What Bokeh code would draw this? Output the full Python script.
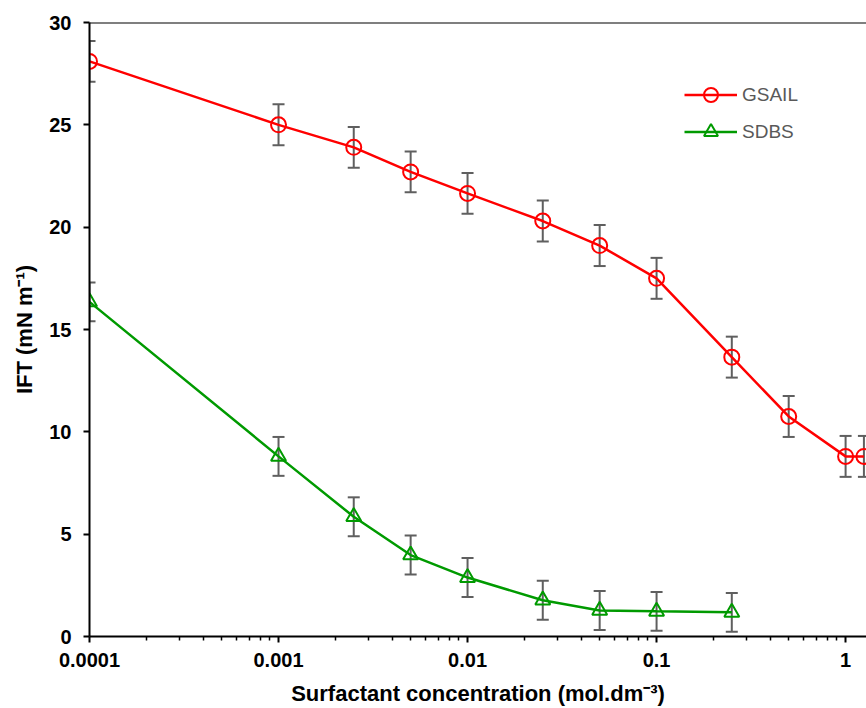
import numpy as np
from bokeh.plotting import figure
from bokeh.models import (ColumnDataSource, Whisker, TeeHead, Legend, LegendItem,
                          FixedTicker, Range1d, Span)
from bokeh.embed import file_html
from bokeh.resources import INLINE

conc = [0.0001, 0.001, 0.0025, 0.005, 0.01, 0.025, 0.05, 0.1, 0.25, 0.5, 1.0, 1.25]
gsail = [28.1, 25.0, 23.9, 22.7, 21.65, 20.3, 19.1, 17.5, 13.65, 10.75, 8.8, 8.8]
gsail_err = [1.0] * 12

conc_sdbs = [0.0001, 0.001, 0.0025, 0.005, 0.01, 0.025, 0.05, 0.1, 0.25]
sdbs = [16.35, 8.8, 5.85, 3.98, 2.88, 1.77, 1.27, 1.23, 1.18]
sdbs_err = [0.95] * 9

x_ticks = [0.0001, 0.001, 0.01, 0.1, 1]
x_tick_labels = ["0.0001", "0.001", "0.01", "0.1", "1"]
y_ticks = [0, 5, 10, 15, 20, 25, 30]

RED = "#FF0000"
GREEN = "#009A00"
GRAY = "#5F5F5F"
FONT = "Liberation Sans"

p = figure(width=866, height=708, x_axis_type="log", output_backend="svg",
           toolbar_location=None, x_range=Range1d(0.0001, 1.29),
           y_range=Range1d(0, 30), min_border_left=89, min_border_top=22,
           min_border_right=0, min_border_bottom=72)
p.outline_line_color = None
p.grid.visible = False

src_g = ColumnDataSource(dict(x=conc, y=gsail,
                              lo=[a - b for a, b in zip(gsail, gsail_err)],
                              hi=[a + b for a, b in zip(gsail, gsail_err)]))
src_s = ColumnDataSource(dict(x=conc_sdbs, y=sdbs,
                              lo=[a - b for a, b in zip(sdbs, sdbs_err)],
                              hi=[a + b for a, b in zip(sdbs, sdbs_err)]))

for src in (src_g, src_s):
    w = Whisker(source=src, base="x", upper="hi", lower="lo", dimension="height",
                line_color=GRAY, line_width=2,
                upper_head=TeeHead(size=12, line_color=GRAY, line_width=2),
                lower_head=TeeHead(size=12, line_color=GRAY, line_width=2))
    p.add_layout(w)

lg = p.line("x", "y", source=src_g, line_color=RED, line_width=2.5)
sg = p.scatter("x", "y", source=src_g, marker="circle", size=15, fill_color=None,
               line_color=RED, line_width=2)
ls = p.line("x", "y", source=src_s, line_color=GREEN, line_width=2.5)
ss = p.scatter("x", "y", source=src_s, marker="triangle", size=15, fill_color=None,
               line_color=GREEN, line_width=2)

p.add_layout(Span(location=30, dimension="width", line_color="black", line_width=2))

legend = Legend(items=[LegendItem(label="GSAIL", renderers=[lg, sg]),
                       LegendItem(label="SDBS", renderers=[ls, ss])],
                location=(595, 487), glyph_width=53, glyph_height=35, spacing=2,
                padding=0, margin=0, label_standoff=5,
                border_line_color=None, background_fill_alpha=0)
legend.label_text_font = FONT
legend.label_text_font_size = "19px"
legend.label_text_color = "#595959"
legend.label_height = 35
p.add_layout(legend)

xa = p.xaxis[0]
xa.ticker = FixedTicker(ticks=x_ticks,
                        minor_ticks=[m * 10.0 ** e for e in range(-4, 1) for m in range(2, 10)])
xa.major_label_overrides = {t: l for t, l in zip(x_ticks, x_tick_labels)}
xa.axis_label = "Surfactant concentration (mol.dm\u207B\u00B3)"

ya = p.yaxis[0]
ya.ticker = FixedTicker(ticks=y_ticks)
ya.axis_label = "IFT (mN m\u207B\u00B9)"
ya.minor_tick_line_color = None

for ax in (xa, ya):
    ax.axis_line_color = "black"
    ax.axis_line_width = 2
    ax.major_tick_line_color = "black"
    ax.major_tick_line_width = 2
    ax.major_tick_in = 0
    ax.major_tick_out = 6
    ax.major_label_text_font = FONT
    ax.major_label_text_font_style = "bold"
    ax.major_label_text_font_size = "20px"
    ax.major_label_text_color = "black"
    ax.axis_label_text_font = FONT
    ax.axis_label_text_font_style = "bold"
    ax.axis_label_text_font_size = "22px"
    ax.axis_label_text_color = "black"

xa.minor_tick_line_color = "black"
xa.minor_tick_line_width = 1.5
xa.minor_tick_in = 0
xa.minor_tick_out = 4
xa.major_label_standoff = 10
xa.axis_label_standoff = 11
ya.major_label_standoff = 12
ya.axis_label_standoff = 9

open("out.html", "w").write(file_html(p, INLINE))
